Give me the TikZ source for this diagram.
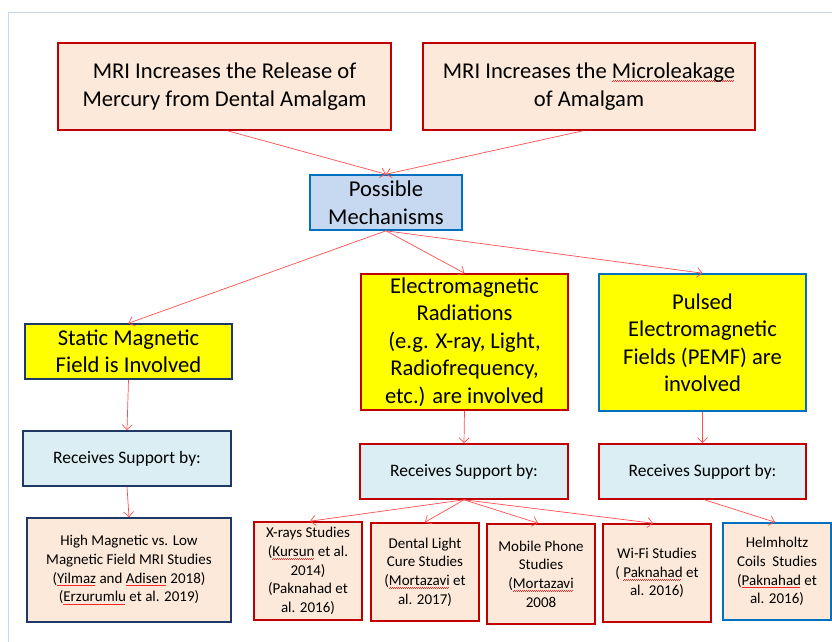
\documentclass[tikz,border=0pt]{standalone}
\usepackage{fontspec}
\setmainfont{Carlito}
\usetikzlibrary{arrows.meta}
\definecolor{boxred}{HTML}{C00000}
\definecolor{peach}{HTML}{FDE9D9}
\definecolor{pmblue}{HTML}{C6D9F1}
\definecolor{edgeblue}{HTML}{0070C0}
\definecolor{navy}{HTML}{1F3864}
\definecolor{ltblue}{HTML}{DBEEF4}
\definecolor{yel}{HTML}{FFFF00}
\definecolor{arrred}{HTML}{FF4F4F}
\definecolor{framec}{HTML}{C9D7EA}
\newsavebox\sqbox
\newcommand\sq[1]{\sbox\sqbox{#1}\rlap{\textcolor{red!85}{\leaders\hbox{\rule[-3pt]{1pt}{0.6pt}\rule[-2.4pt]{1pt}{0.6pt}}\hskip\wd\sqbox}}\usebox\sqbox}
\tikzset{
  base/.style={rectangle, line width=1.6pt, align=center, inner sep=1pt},
  big/.style={font=\fontsize{22.6}{27.5}\selectfont},
  mid/.style={font=\fontsize{17.5}{20}\selectfont},
  small/.style={font=\fontsize{15}{18.7}\selectfont},
  redpeach/.style={base, draw=boxred, fill=peach},
  navypeach/.style={base, draw=navy, fill=peach},
  bluepeach/.style={base, draw=edgeblue, fill=peach},
  pmbox/.style={base, draw=edgeblue, fill=pmblue},
  yelnavy/.style={base, draw=navy, fill=yel},
  yelred/.style={base, draw=boxred, fill=yel},
  yelblue/.style={base, draw=edgeblue, fill=yel},
  recnavy/.style={base, draw=navy, fill=ltblue},
  recred/.style={base, draw=boxred, fill=ltblue},
  arr/.style={draw=arrred, line width=0.7pt, -{Straight Barb[length=5pt,width=10pt]}}
}
\begin{document}
\begin{tikzpicture}[x=1pt,y=-1pt]
\useasboundingbox (0,0) rectangle (832,642);
\draw[framec, line width=1pt] (8,642) -- (8,13) -- (832,13);

\node[redpeach, big, minimum width=333pt, minimum height=87pt] (A) at (224.5,86.5)
  {MRI Increases the Release of\\Mercury from Dental Amalgam};
\node[redpeach, big, minimum width=332pt, minimum height=87pt] (B) at (589,86.5)
  {MRI Increases the \sq{Microleakage}\\of Amalgam};
\node[pmbox, big, minimum width=152pt, minimum height=55pt] (PM) at (386,202.5)
  {Possible\\Mechanisms};

\node[yelnavy, big, minimum width=207pt, minimum height=55pt] (S) at (128.5,351.5)
  {Static Magnetic\\Field is Involved};
\node[yelred, big, minimum width=207pt, minimum height=136pt] (EM) at (464.5,342)
  {Electromagnetic\\Radiations\\(e.g. X-ray, Light,\\Radiofrequency,\\etc.) are involved};
\node[yelblue, big, minimum width=207pt, minimum height=137pt] (PE) at (702.5,342.5)
  {Pulsed\\Electromagnetic\\Fields (PEMF) are\\involved};

\node[recnavy, mid, minimum width=208pt, minimum height=55pt] (R1) at (127,458.5) {Receives Support by:};
\node[recred, mid, minimum width=208pt, minimum height=55pt] (R2) at (464,471.5) {Receives Support by:};
\node[recred, mid, minimum width=207pt, minimum height=55pt] (R3) at (702.5,471.5) {Receives Support by:};

\node[navypeach, small, minimum width=204pt, minimum height=104pt] (HM) at (129,570)
  {High Magnetic vs. Low\\Magnetic Field MRI Studies\\(\sq{Yilmaz} and \sq{Adisen} 2018)\\(\sq{Erzurumlu} et al. 2019)};
\node[redpeach, small, minimum width=108pt, minimum height=98pt] (X) at (308,571)
  {X-rays Studies\\(\sq{Kursun} et al.\\2014)\\(Paknahad et\\al. 2016)};
\node[redpeach, small, minimum width=108pt, minimum height=98pt] (D) at (425,572)
  {Dental Light\\Cure Studies\\(\sq{Mortazavi} et\\al. 2017)};
\node[redpeach, small, minimum width=108pt, minimum height=100pt] (M) at (541,574)
  {Mobile Phone\\Studies\\(\sq{Mortazavi}\\2008};
\node[redpeach, small, minimum width=108pt, minimum height=98pt] (W) at (657,573)
  {Wi-Fi Studies\\( \sq{Paknahad} et\\al. 2016)};
\node[bluepeach, small, minimum width=108pt, minimum height=97pt] (H) at (777,571.5)
  {Helmholtz\\Coils\ \ Studies\\(\sq{Paknahad} et\\al. 2016)};

\draw[arr] ([xshift=3pt]A.south) -- (PM.north);
\draw[arr] ([xshift=-6pt]B.south) -- (PM.north);
\draw[arr] (PM.south) -- (S.north);
\draw[arr] (PM.south) -- (EM.north);
\draw[arr] (PM.south) -- (PE.north);
\draw[arr] (S.south) -- (R1.north);
\draw[arr] (R1.south) -- (HM.north);
\draw[arr] (EM.south) -- (R2.north);
\draw[arr] (PE.south) -- (R3.north);
\draw[arr] (R2.south) -- ([xshift=2pt]X.north);
\draw[arr] (R2.south) -- (D.north);
\draw[arr] (R2.south) -- ([xshift=-3pt]M.north);
\draw[arr] (R2.south) -- ([xshift=-4pt]W.north);
\draw[arr] ([xshift=2pt]R3.south) -- ([xshift=-2pt]H.north);
\end{tikzpicture}
\end{document}
